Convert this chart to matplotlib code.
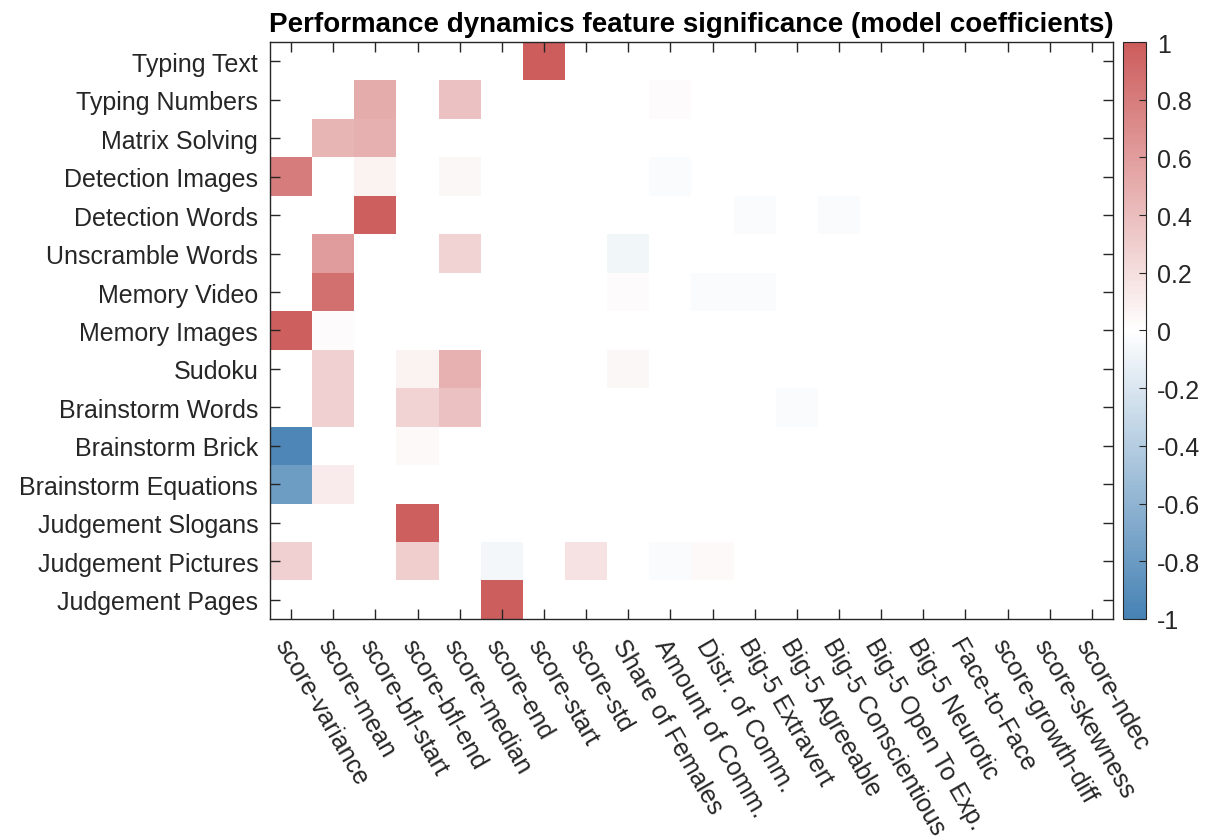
import numpy as np
import matplotlib
matplotlib.use("Agg")
import matplotlib.pyplot as plt
from matplotlib.colors import LinearSegmentedColormap

plt.rcParams['font.family'] = ['Liberation Sans', 'DejaVu Sans']
plt.rcParams['axes.unicode_minus'] = False

tasks = ["Typing Text", "Typing Numbers", "Matrix Solving", "Detection Images",
         "Detection Words", "Unscramble Words", "Memory Video", "Memory Images",
         "Sudoku", "Brainstorm Words", "Brainstorm Brick", "Brainstorm Equations",
         "Judgement Slogans", "Judgement Pictures", "Judgement Pages"]

features = ["score-variance", "score-mean", "score-bfl-start", "score-bfl-end",
            "score-median", "score-end", "score-start", "score-std",
            "Share of Females", "Amount of Comm.", "Distr. of Comm.",
            "Big-5 Extravert", "Big-5 Agreeable", "Big-5 Conscientious",
            "Big-5 Open To Exp.", "Big-5 Neurotic", "Face-to-Face",
            "score-growth-diff", "score-skewness", "score-ndec"]

# non-zero coefficients: (task index, feature index, value)
rows = [0, 1, 1, 1, 2, 2, 3, 3, 3, 3, 4, 4, 4, 5, 5, 5, 6, 6, 6, 6,
        7, 7, 8, 8, 8, 8, 9, 9, 9, 9, 10, 10, 11, 11, 12,
        13, 13, 13, 13, 13, 13, 14]
cols = [6, 2, 4, 9, 1, 2, 0, 2, 4, 9, 2, 11, 13, 1, 4, 8, 1, 8, 10, 11,
        0, 1, 1, 3, 4, 8, 1, 3, 4, 12, 0, 3, 0, 1, 3,
        0, 3, 5, 7, 9, 10, 5]
vals = [1.0, 0.5, 0.38, 0.02, 0.45, 0.48, 0.8, 0.08, 0.05, -0.03, 0.97, -0.03, -0.03,
        0.6, 0.27, -0.07, 0.88, 0.02, -0.03, -0.03,
        0.97, 0.02, 0.28, 0.08, 0.47, 0.05, 0.28, 0.27, 0.38, -0.03,
        -0.95, 0.03, -0.78, 0.12, 0.97,
        0.28, 0.3, -0.06, 0.17, -0.03, 0.03, 0.98]

coef = np.zeros((len(tasks), len(features)))
for r, c, v in zip(rows, cols, vals):
    coef[r, c] = v

cmap = LinearSegmentedColormap.from_list("bwr_soft", ["#4682B4", "#FFFFFF", "#CD5C5C"], N=255)

fig = plt.figure(figsize=(12.12, 8.37), dpi=100)
ax = fig.add_axes([0.2228, 0.2593, 0.6955, 0.6893])
im = ax.imshow(coef, cmap=cmap, vmin=-1, vmax=1, aspect='auto', interpolation='nearest')

ax.set_xticks(range(len(features)))
ax.set_xticklabels(features, rotation=-60, rotation_mode='anchor', ha='left', va='top', fontsize=18)
ax.set_yticks(range(len(tasks)))
ax.set_yticklabels(tasks, fontsize=18)
ax.tick_params(direction='in', length=7, width=1, color='#262626', top=True, right=True,
               labelcolor='#262626')
ax.tick_params(axis='y', pad=8.5)
ax.tick_params(axis='x', pad=11)
for s in ax.spines.values():
    s.set_color('#262626')
    s.set_linewidth(1)

ax.set_title("Performance dynamics feature significance (model coefficients)",
             fontsize=20, fontweight='bold', pad=8)

cax = fig.add_axes([1123 / 1212, 0.2593, 23 / 1212, 0.6893])
cb = fig.colorbar(im, cax=cax)
cb.set_ticks(np.linspace(-1, 1, 11))
cb.set_ticklabels(["-1", "-0.8", "-0.6", "-0.4", "-0.2", "0", "0.2", "0.4", "0.6", "0.8", "1"])
cb.ax.tick_params(direction='in', length=5, labelsize=18, labelcolor='#262626', color='#262626', pad=8)
cb.outline.set_edgecolor('#262626')

fig.savefig("out.png", dpi=100)
